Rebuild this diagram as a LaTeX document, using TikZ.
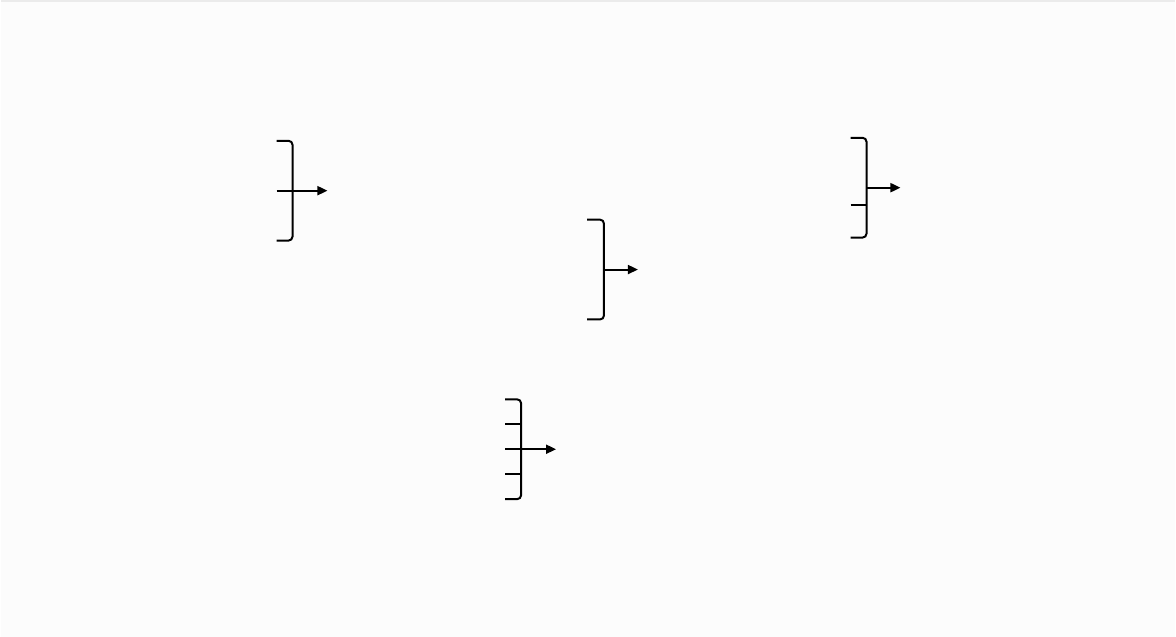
\documentclass[tikz,border=0pt]{standalone}
\usetikzlibrary{arrows.meta}
\tikzset{
	joinline/.style={line width=2pt, rounded corners=4pt},
	outarrow/.style={line width=2pt, -{Triangle[length=10pt,width=9pt]}}
}
\begin{document}
\begin{tikzpicture}[x=1pt,y=-1pt]
				\fill[black!1] (0,0) rectangle (1176,638);
				\draw[black!8, line width=2pt] (0,1) -- (1176,1);
				% join with two inputs
				\draw[joinline] (276,141) -- (292,141) -- (292,241) -- (276,241);
				\coordinate (a1) at (276,191);
				\coordinate (a2) at (327,191);
				\draw[outarrow] (a1) -- (a2);
				% join in the middle
				\draw[joinline] (587,220) -- (604,220) -- (604,320) -- (587,320);
				\coordinate (b1) at (604,270);
				\coordinate (b2) at (638,270);
				\draw[outarrow] (b1) -- (b2);
				% join with three inputs
				\draw[joinline] (851,138) -- (867,138) -- (867,238) -- (851,238);
				\draw[line width=2pt] (851,205) -- (867,205);
				\coordinate (c1) at (867,188);
				\coordinate (c2) at (901,188);
				\draw[outarrow] (c1) -- (c2);
				% join with five inputs
				\draw[joinline] (505,400) -- (521,400) -- (521,500) -- (505,500);
				\foreach \y in {425,475}
					\draw[line width=2pt] (505,\y) -- (521,\y);
				\coordinate (d1) at (505,450);
				\coordinate (d2) at (556,450);
				\draw[outarrow] (d1) -- (d2);
			\end{tikzpicture}
\end{document}
